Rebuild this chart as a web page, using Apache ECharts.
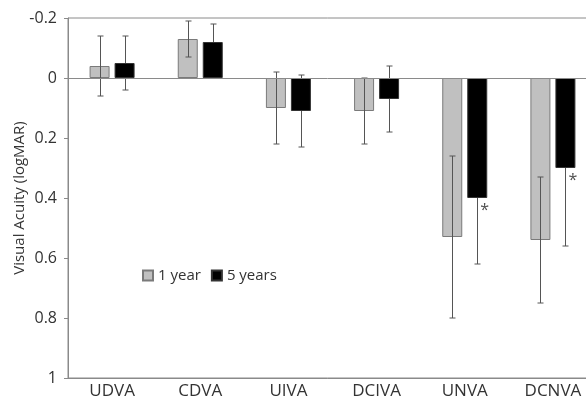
<!DOCTYPE html>
<html>
<head>
<meta charset="utf-8">
<script src="https://cdn.jsdelivr.net/npm/echarts@6/dist/echarts.min.js"></script>
<style>html,body{margin:0;padding:0;background:#fff}#c{width:586px;height:403px}</style>
</head>
<body>
<div id="c"></div>
<script>
var categories = ['UDVA', 'CDVA', 'UIVA', 'DCIVA', 'UNVA', 'DCNVA'];
var seriesNames = ['1 year', '5 years'];
var year1Mean = [-0.04, -0.13, 0.10, 0.11, 0.53, 0.54];
var year1SD   = [0.10, 0.06, 0.12, 0.11, 0.27, 0.21];
var year5Mean = [-0.05, -0.12, 0.11, 0.07, 0.40, 0.30];
var year5SD   = [0.09, 0.06, 0.12, 0.11, 0.22, 0.26];
var year5Significant = [false, false, false, false, true, true];
var yTickLabels = ['-0.2', '0', '0.2', '0.4', '0.6', '0.8', '1'];

var FONT = 'Open Sans';
var BAR_W = 20;
var HALF = 12.5;

function errorSeries(means, sds, side, color, z) {
  return {
    type: 'custom',
    z: z,
    silent: true,
    data: means.map(function (m, i) { return [i, m, sds[i]]; }),
    renderItem: function (params, api) {
      var i = api.value(0), m = api.value(1), sd = api.value(2);
      var c = api.coord([i, m]);
      var x = Math.round(c[0] + side * HALF) + 0.5;
      var y1 = api.coord([i, m - sd])[1];
      var y2 = api.coord([i, m + sd])[1];
      var cap = 3;
      var st = { stroke: color, lineWidth: 1 };
      return {
        type: 'group',
        children: [
          { type: 'line', shape: { x1: x, y1: y1, x2: x, y2: y2 }, style: st },
          { type: 'line', shape: { x1: x - cap, y1: y1, x2: x + cap, y2: y1 }, style: st },
          { type: 'line', shape: { x1: x - cap, y1: y2, x2: x + cap, y2: y2 }, style: st }
        ]
      };
    }
  };
}

var chart = echarts.init(document.getElementById('c'), null, { renderer: 'canvas' });
chart.setOption({
  animation: false,
  textStyle: { fontFamily: FONT },
  grid: { left: 68, top: 18, width: 529, height: 360, containLabel: false, outerBoundsMode: 'none', show: true, borderColor: '#8a8a8a', borderWidth: 1, backgroundColor: 'transparent' },
  legend: {
    data: seriesNames,
    left: 137, top: 263,
    itemWidth: 10, itemHeight: 10, itemGap: 10,
    icon: 'rect',
    textStyle: { fontFamily: FONT, fontSize: 15, color: '#333' }
  },
  xAxis: {
    type: 'category',
    data: categories,
    axisLine: { onZero: false, show: true, lineStyle: { color: '#8a8a8a' } },
    axisTick: { show: false },
    axisLabel: { fontFamily: FONT, fontSize: 17, color: '#333', margin: 5 }
  },
  yAxis: {
    type: 'value',
    inverse: true,
    min: -0.2, max: 1, interval: 0.2,
    name: 'Visual Acuity (logMAR)',
    nameLocation: 'middle',
    nameGap: 41,
    nameMoveOverlap: false,
    nameTextStyle: { fontFamily: FONT, fontSize: 15, color: '#333' },
    axisLine: { show: true, lineStyle: { color: '#8a8a8a' } },
    axisTick: { show: true, length: 4, lineStyle: { color: '#8a8a8a' } },
    splitLine: { show: false },
    axisLabel: {
      fontFamily: FONT, fontSize: 16, color: '#333', margin: 11,
      formatter: function (v) {
        var idx = Math.round((v + 0.2) / 0.2);
        return yTickLabels[idx];
      }
    }
  },
  series: [
    {
      name: seriesNames[0], type: 'bar', barWidth: BAR_W, barGap: '25%', z: 2,
      itemStyle: { color: '#c0c0c0', borderColor: '#7a7a7a', borderWidth: 1 },
      data: year1Mean,
      markLine: {
        silent: true, symbol: 'none', label: { show: false },
        lineStyle: { color: '#8a8a8a', type: 'solid', width: 1 },
        data: [{ yAxis: 0 }]
      }
    },
    {
      name: seriesNames[1], type: 'bar', barWidth: BAR_W, z: 2,
      itemStyle: { color: '#000', borderColor: '#333', borderWidth: 1 },
      data: year5Mean
    },
    errorSeries(year1Mean, year1SD, -1, '#555', 3),
    errorSeries(year5Mean, year5SD, 1, '#555', 1),
    {
      type: 'scatter', silent: true, symbolSize: 0, z: 4,
      data: year5Mean.map(function (m, i) { return year5Significant[i] ? [i, m] : null; }).filter(function (d) { return d; }),
      label: { show: true, formatter: '*', position: 'inside', offset: [20, 12], fontSize: 16, color: '#222', fontFamily: FONT }
    }
  ]
});
</script>
</body>
</html>
